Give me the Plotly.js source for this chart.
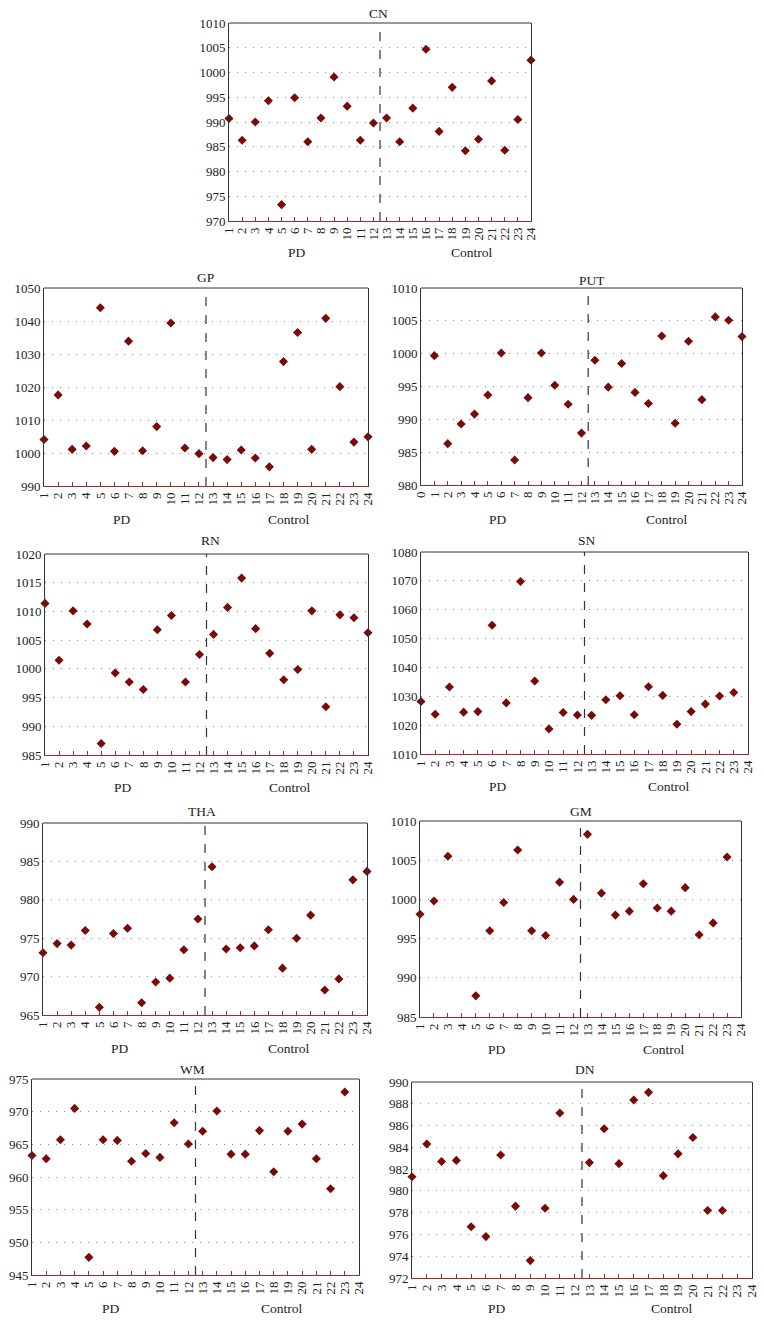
<!DOCTYPE html>
<html>
<head>
<meta charset="utf-8">
<script src="https://cdn.plot.ly/plotly-3.0.1.min.js"></script>
<style>html,body{margin:0;padding:0;background:#fff;}#chart{width:764px;height:1320px;}</style>
</head>
<body>
<div id="chart"></div>
<script>
// ---- data ----
const subjects = [1,2,3,4,5,6,7,8,9,10,11,12,13,14,15,16,17,18,19,20,21,22,23,24];
const groupLabels = ["PD", "Control"];
const panelNames = ["CN", "GP", "PUT", "RN", "SN", "THA", "GM", "WM", "DN"];

const cnValues  = [990.7,986.3,990.0,994.3,973.3,994.9,986.0,990.8,999.1,993.2,986.3,989.8,990.8,986.0,992.8,1004.7,988.1,997.0,984.2,986.5,998.3,984.3,990.5,1002.5];
const gpValues  = [1004.1,1017.6,1001.1,1002.1,1044.0,1000.5,1033.9,1000.7,1008.0,1039.4,1001.5,999.8,998.6,998.0,1000.9,998.5,995.8,1027.7,1036.5,1001.1,1040.8,1020.1,1003.3,1004.9];
const putValues = [999.7,986.3,989.3,990.8,993.7,1000.1,983.8,993.3,1000.1,995.2,992.3,987.9,999.0,994.9,998.5,994.1,992.4,1002.7,989.4,1001.9,993.0,1005.6,1005.1,1002.6];
const rnValues  = [1011.4,1001.5,1010.1,1007.8,987.0,999.3,997.7,996.4,1006.8,1009.3,997.7,1002.5,1006.0,1010.7,1015.8,1007.0,1002.7,998.1,999.9,1010.1,993.4,1009.4,1008.9,1006.3];
const snValues  = [1028.2,1023.8,1033.2,1024.5,1024.7,1054.6,1027.7,1069.8,1035.3,1018.7,1024.4,1023.5,1023.4,1028.8,1030.2,1023.6,1033.3,1030.3,1020.3,1024.7,1027.3,1030.1,1031.3,null];
const thaValues = [973.1,974.3,974.1,976.0,966.0,975.6,976.3,966.6,969.3,969.8,973.5,977.5,984.3,973.6,973.75,974.0,976.1,971.1,975.0,978.0,968.25,969.7,982.6,983.7];
const gmValues  = [998.1,999.8,1005.5,null,987.7,996.0,999.6,1006.3,996.0,995.4,1002.2,1000.0,1008.3,1000.8,998.0,998.5,1002.0,998.9,998.5,1001.5,995.5,997.0,1005.4,null];
const wmValues  = [963.3,962.8,965.7,970.5,947.7,965.7,965.6,962.4,963.6,963.0,968.3,965.05,967.0,970.1,963.5,963.5,967.1,960.8,967.0,968.1,962.8,958.2,973.0,null];
const dnValues  = [981.3,984.3,982.7,982.8,976.7,975.8,983.3,978.6,973.6,978.4,987.15,null,982.6,985.7,982.5,988.35,989.05,981.4,983.4,984.9,978.2,978.2,null,null];

const yRanges = [[970,1010],[990,1050],[980,1010],[985,1020],[1010,1080],[965,990],[985,1010],[945,975],[972,990]];
const yDticks = [5,10,5,5,10,5,5,5,2];
const xStarts = [1,1,0,1,1,1,1,1,1];
const allValues = [cnValues,gpValues,putValues,rnValues,snValues,thaValues,gmValues,wmValues,dnValues];

// ---- layout (pixel geometry) ----
const W = 764, H = 1320;
const boxes = [ // [left, right, top, bottom] plot area in px
  [229,531,23,221],
  [44,368,288,486],
  [421,742,288,485],
  [45,368,554,755],
  [421,748,552,754],
  [43,367,823,1015],
  [420,741,821,1017],
  [32,359,1079,1275],
  [412,752,1082,1278]
];
const titlePos = [[378,13],[205,277],[592,280],[210,540],[587,540],[202,811],[581,811],[192,1069],[585,1069]];
const groupPos = [ // [PDx, Controlx, y]
  [297,472,252],[122,289,519],[498,667,519],[123,290,787],[498,669,786],
  [120,289,1048],[497,664,1049],[111,282,1308],[497,672,1308]
];

const FONT = "Liberation Serif";
const px = v => v / W;
const py = v => 1 - v / H;

const traces = [];
const layout = {
  width: W, height: H,
  margin: {l:0,r:0,t:0,b:0},
  paper_bgcolor: "#fff", plot_bgcolor: "#fff",
  showlegend: false,
  font: {family: FONT, size: 13, color: "#222"},
  shapes: [], annotations: []
};

panelNames.forEach((name, i) => {
  const k = i + 1;
  const xa = "xaxis" + (k === 1 ? "" : k), ya = "yaxis" + (k === 1 ? "" : k);
  const xr = "x" + (k === 1 ? "" : k), yr = "y" + (k === 1 ? "" : k);
  const b = boxes[i];
  traces.push({
    type: "scatter", mode: "markers",
    x: subjects, y: allValues[i],
    xaxis: xr, yaxis: yr,
    cliponaxis: false,
    marker: {symbol: "diamond", size: 7, color: "#7a0a0a"},
    hoverinfo: "x+y"
  });
  const ticks = [];
  for (let t = xStarts[i]; t <= 24; t++) ticks.push(t);
  layout[xa] = {
    domain: [px(b[0]), px(b[1])],
    anchor: yr,
    range: [xStarts[i], 24],
    tickmode: "array", tickvals: ticks, ticktext: ticks.map(String),
    tickangle: -90,
    ticks: "inside", ticklen: 4, tickcolor: "#a52a2a", tickwidth: 1,
    showline: true, linecolor: "#a52a2a", linewidth: 1.3,
    showgrid: false, zeroline: false,
    tickfont: {family: FONT, size: 13, color: "#222"},
    fixedrange: true
  };
  layout[ya] = {
    domain: [py(b[3]), py(b[2])],
    anchor: xr,
    range: yRanges[i],
    dtick: yDticks[i], tick0: yRanges[i][0],
    ticks: "",
    showline: true, linecolor: "#333", linewidth: 1, mirror: true,
    showgrid: true, gridcolor: "#8a8a8a", griddash: "1px,7px", gridwidth: 1,
    zeroline: false,
    tickfont: {family: FONT, size: 13, color: "#222"},
    fixedrange: true
  };
  // top border
  layout.shapes.push({type: "line", xref: xr + " domain", yref: yr + " domain",
    x0: 0, x1: 1, y0: 1, y1: 1, line: {color: "#333", width: 1}});
  // group divider
  layout.shapes.push({type: "line", xref: xr, yref: yr + " domain",
    x0: 12.5, x1: 12.5, y0: 0, y1: 1, line: {color: "#333", width: 1.2, dash: "dash"}});
  // title
  layout.annotations.push({text: name, xref: "paper", yref: "paper",
    x: px(titlePos[i][0]), y: py(titlePos[i][1]), xanchor: "center", yanchor: "middle",
    showarrow: false, font: {family: FONT, size: 13.5, color: "#222"}});
  // group labels
  groupLabels.forEach((g, j) => {
    layout.annotations.push({text: g, xref: "paper", yref: "paper",
      x: px(groupPos[i][j]), y: py(groupPos[i][2]), xanchor: "center", yanchor: "middle",
      showarrow: false, font: {family: FONT, size: 13.5, color: "#222"}});
  });
});

Plotly.newPlot("chart", traces, layout, {staticPlot: true, displayModeBar: false});
</script>
</body>
</html>
